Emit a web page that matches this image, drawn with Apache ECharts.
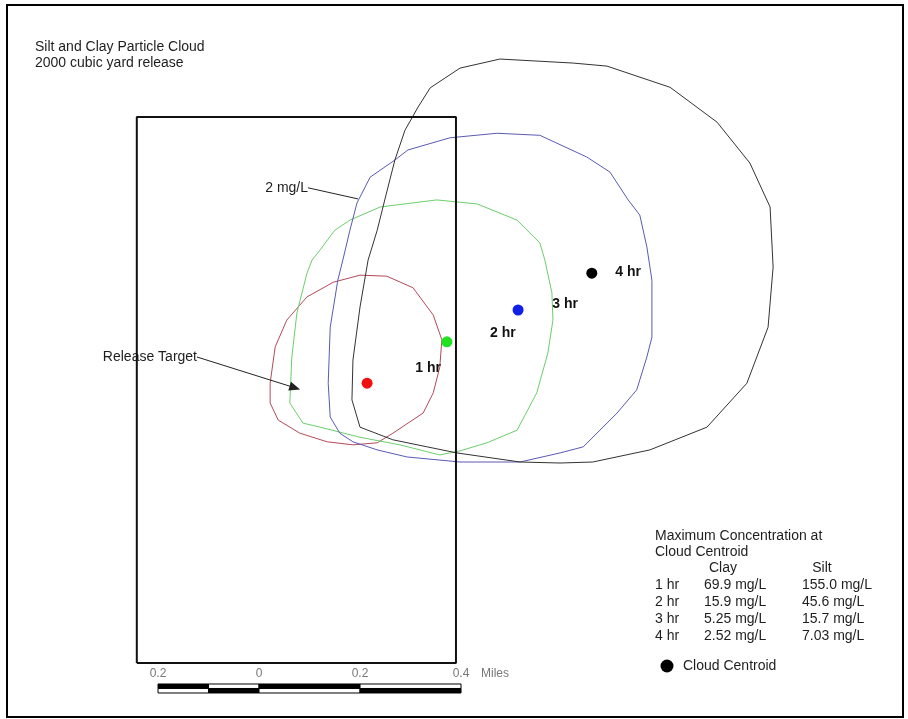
<!DOCTYPE html>
<html>
<head>
<meta charset="utf-8">
<script src="https://cdn.jsdelivr.net/npm/echarts@6/dist/echarts.min.js"></script>
<style>
  html, body { margin: 0; padding: 0; background: #fff; }
  #chart { width: 908px; height: 719px; }
</style>
</head>
<body>
<div id="chart"></div>
<script>
// Map coordinates are in miles: x east of the scale-bar origin, y north of the release-zone base.

// Cloud outlines (2 mg/L contour) after 1, 2, 3 and 4 hours
const contour1hr = [
  [0.200,0.768],[0.253,0.766],[0.305,0.743],[0.345,0.689],[0.362,0.640],[0.358,0.586],
  [0.345,0.535],[0.325,0.495],[0.265,0.455],[0.234,0.436],[0.186,0.432],[0.135,0.438],
  [0.081,0.455],[0.038,0.481],[0.022,0.515],[0.022,0.554],[0.032,0.626],[0.055,0.679],
  [0.095,0.725],[0.147,0.754]
];
const contour2hr = [
  [0.087,0.475],[0.061,0.515],[0.065,0.606],[0.075,0.693],[0.095,0.772],[0.105,0.798],
  [0.121,0.818],[0.150,0.857],[0.180,0.877],[0.240,0.903],[0.352,0.917],[0.432,0.909],
  [0.511,0.877],[0.556,0.832],[0.566,0.798],[0.580,0.733],[0.582,0.679],[0.572,0.614],
  [0.550,0.535],[0.511,0.461],[0.451,0.436],[0.398,0.420],[0.358,0.412],[0.279,0.432],
  [0.200,0.447],[0.121,0.467]
];
const contour3hr = [
  [0.160,0.455],[0.141,0.487],[0.137,0.554],[0.141,0.665],[0.156,0.758],[0.166,0.798],
  [0.180,0.857],[0.194,0.911],[0.220,0.962],[0.269,0.996],[0.295,1.016],[0.378,1.040],
  [0.471,1.049],[0.556,1.045],[0.649,1.002],[0.695,0.972],[0.731,0.917],[0.754,0.887],
  [0.768,0.824],[0.778,0.758],[0.778,0.645],[0.768,0.606],[0.748,0.541],[0.709,0.495],
  [0.642,0.428],[0.596,0.416],[0.517,0.398],[0.398,0.398],[0.293,0.408],[0.234,0.422],
  [0.186,0.438]
];
const contour4hr = [
  [0.200,0.467],[0.184,0.521],[0.186,0.600],[0.200,0.705],[0.216,0.798],[0.234,0.857],
  [0.249,0.917],[0.269,0.996],[0.289,1.055],[0.315,1.101],[0.339,1.139],[0.398,1.178],
  [0.477,1.196],[0.622,1.188],[0.689,1.182],[0.814,1.140],[0.907,1.071],[0.972,0.990],
  [1.012,0.903],[1.018,0.784],[1.008,0.665],[0.966,0.554],[0.887,0.467],[0.774,0.422],
  [0.661,0.398],[0.596,0.396],[0.517,0.398],[0.392,0.416],[0.333,0.428],[0.265,0.442]
];

// Cloud centroid at 1, 2, 3 and 4 hours
const centroids = [[0.214,0.554],[0.372,0.636],[0.513,0.699],[0.659,0.772]];
const hourNames = ['1 hr','2 hr','3 hr','4 hr'];
// Where each hour label sits on the map
const hourLabelAt = [[0.335,0.584],[0.483,0.653],[0.606,0.711],[0.731,0.774]];

// Release zone outline and target
const releaseZone = [[-0.242,0.000],[0.390,0.000],[0.390,1.081],[-0.242,1.081]];
const releaseTarget = [0.071,0.545];
const releaseLabelFrom = [-0.123,0.606];
const contourLabelFrom = [0.097,0.941];
const contourLabelTo = [0.196,0.919];

// Scale bar (miles)
const scaleTicks = [-0.2, 0, 0.2, 0.4];
const scaleSegments = [[-0.2,-0.1],[-0.1,0],[0,0.2],[0.2,0.4]];

// Maximum concentration at cloud centroid (mg/L)
const clayConc = ['69.9','15.9','5.25','2.52'];
const siltConc = ['155.0','45.6','15.7','7.03'];

const FONT = '"Liberation Sans", Arial, Helvetica, sans-serif';
const TEXT = '#1e1e1e';
const outlineColors = ['#b44a5a','#6ccf6c','#5a5ab4','#333333'];
const dotColors = ['#f01010','#22e022','#1020e8','#000000'];

const closeRing = ring => ring.concat([ring[0]]);

const contourSeries = [contour1hr, contour2hr, contour3hr, contour4hr].map((c, i) => ({
  type: 'line',
  data: closeRing(c),
  symbol: 'none',
  smooth: false,
  silent: true,
  z: 3,
  lineStyle: { color: outlineColors[i], width: 1 }
}));

const chart = echarts.init(document.getElementById('chart'), null, { renderer: 'canvas' });

const txt = (text, x, y, align) => ({
  type: 'text',
  style: { text, x, y, font: '14px ' + FONT, fill: TEXT, textAlign: align || 'left', textVerticalAlign: 'middle' }
});

const graphics = [
  { type: 'rect', shape: { x: 7, y: 5, width: 896, height: 712 },
    style: { fill: 'none', stroke: '#000', lineWidth: 2 }, z: 10 },
  txt('Silt and Clay Particle Cloud', 35, 47),
  txt('2000 cubic yard release', 35, 63),
  txt('Release Target', 197, 357, 'right'),
  txt('2 mg/L', 308, 188, 'right'),
  txt('Maximum Concentration at', 655, 536),
  txt('Cloud Centroid', 655, 552),
  txt('Clay', 723, 568, 'center'),
  txt('Silt', 822, 568, 'center'),
  { type: 'circle', shape: { cx: 667, cy: 666, r: 6.5 }, style: { fill: '#000' } },
  txt('Cloud Centroid', 683, 666)
];
hourNames.forEach((h, i) => {
  const y = 585 + i * 17;
  graphics.push(txt(h, 655, y));
  graphics.push(txt(clayConc[i] + ' mg/L', 704, y));
  graphics.push(txt(siltConc[i] + ' mg/L', 802, y));
});

chart.setOption({
  animation: false,
  backgroundColor: '#fff',
  grid: { left: 0, right: 0, top: 0, bottom: 0, containLabel: false },
  xAxis: { type: 'value', min: -0.5129, max: 1.2851, show: false },
  yAxis: { type: 'value', min: -0.1109, max: 1.3129, show: false },
  graphic: graphics,
  series: [
    // release zone
    {
      type: 'line', data: closeRing(releaseZone), symbol: 'none', silent: true, z: 4,
      lineStyle: { color: '#111', width: 2 }
    },
    ...contourSeries,
    // centroids
    {
      type: 'scatter', data: centroids, symbol: 'circle', symbolSize: 11, z: 6, silent: true,
      itemStyle: { color: p => dotColors[p.dataIndex], opacity: 1 }
    },
    // hour labels
    {
      type: 'scatter', data: hourLabelAt, symbol: 'circle', symbolSize: 1, z: 7, silent: true,
      itemStyle: { color: 'rgba(0,0,0,0)', opacity: 1 },
      label: {
        show: true, position: 'inside', formatter: p => hourNames[p.dataIndex],
        fontFamily: FONT, fontSize: 14, fontWeight: 'bold', color: '#111'
      }
    },
    // leader lines for the target and contour labels
    {
      type: 'line', data: [], silent: true, z: 8,
      markLine: {
        silent: true, animation: false,
        label: { show: false },
        lineStyle: { color: '#222', width: 1, type: 'solid' },
        data: [
          [{ coord: releaseLabelFrom, symbol: 'none' },
           { coord: releaseTarget, symbol: 'triangle', symbolSize: [9, 11] }],
          [{ coord: contourLabelFrom, symbol: 'none' },
           { coord: contourLabelTo, symbol: 'none' }]
        ]
      }
    },
    // scale bar
    {
      type: 'custom', silent: true, z: 9,
      data: scaleSegments.map((s, i) => [s[0], s[1], i]),
      renderItem: (params, api) => {
        const a = api.coord([api.value(0), 0]);
        const b = api.coord([api.value(1), 0]);
        const idx = api.value(2);
        const topFill = idx % 2 === 0 ? '#000' : '#fff';
        const botFill = idx % 2 === 0 ? '#fff' : '#000';
        const top = a[1] + 21;
        return {
          type: 'group',
          children: [
            { type: 'rect', shape: { x: a[0], y: top, width: b[0] - a[0], height: 4.5 },
              style: { fill: topFill, stroke: '#000', lineWidth: 1 } },
            { type: 'rect', shape: { x: a[0], y: top + 4.5, width: b[0] - a[0], height: 4.5 },
              style: { fill: botFill, stroke: '#000', lineWidth: 1 } }
          ]
        };
      }
    },
    // scale bar tick labels
    {
      type: 'scatter', data: scaleTicks.map(v => [v, 0]), symbol: 'circle', symbolSize: 1, z: 9, silent: true,
      itemStyle: { color: 'rgba(0,0,0,0)', opacity: 1 },
      label: {
        show: true, position: 'inside', offset: [0, 11],
        formatter: p => String(Math.abs(scaleTicks[p.dataIndex])),
        fontFamily: FONT, fontSize: 12, color: '#777'
      }
    },
    {
      type: 'scatter', data: [[scaleTicks[scaleTicks.length - 1], 0]], symbol: 'circle', symbolSize: 1, z: 9, silent: true,
      itemStyle: { color: 'rgba(0,0,0,0)', opacity: 1 },
      label: {
        show: true, position: 'inside', offset: [34, 11], formatter: 'Miles',
        fontFamily: FONT, fontSize: 12, color: '#777'
      }
    }
  ]
});
</script>
</body>
</html>
